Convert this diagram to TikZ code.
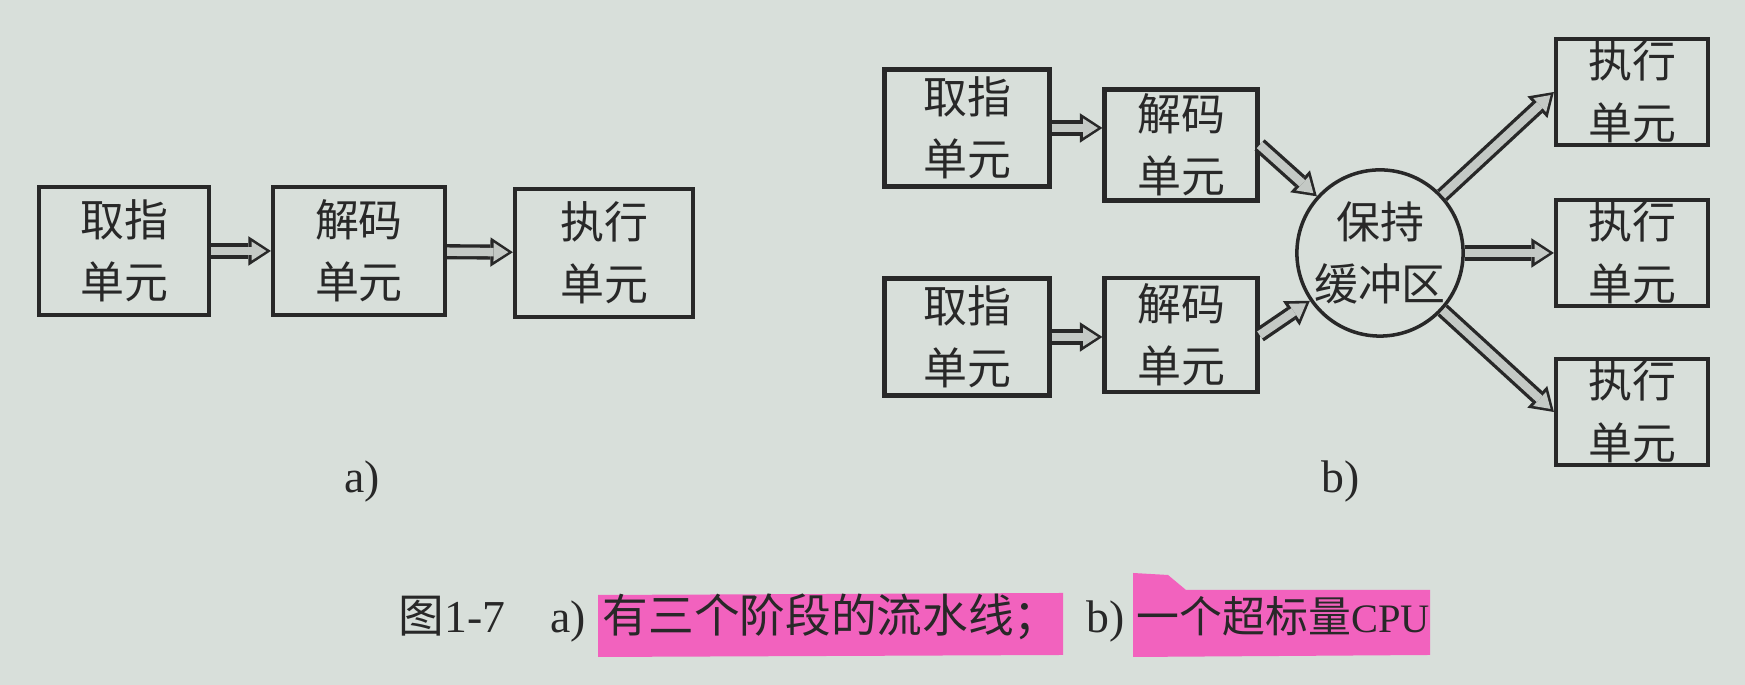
\documentclass[tikz,border=0pt]{standalone}
\usepackage{fontspec}
\setmainfont{Liberation Serif}
\newfontfamily\cjk{Noto Sans CJK SC}
\usetikzlibrary{arrows.meta}

\definecolor{paper}{RGB}{216,223,218}
\definecolor{ink}{RGB}{40,40,40}
\definecolor{marker}{RGB}{242,98,190}
\definecolor{shaft}{RGB}{196,201,197}

\begin{document}
\begin{tikzpicture}[unit/.style={draw=ink,line width=1.2pt,inner sep=0pt,
                    align=center,text=ink,font=\cjk\fontsize{12.5}{17.5}\selectfont},
                    buffer/.style={unit,circle,line width=1pt,minimum size=1.3cm},
                    pipe/.style={draw=shaft,line width=2.4pt,shorten >=1.3pt,
                    -{Triangle[length=4.2pt,width=5.4pt,line width=0pt]},
                    preaction={draw=ink,line width=4.3pt,shorten >=0pt,
                    -{Triangle[length=6.4pt,width=8.4pt,line width=0pt]}}},
                    tag/.style={text=ink,inner sep=0pt,font=\fontsize{13}{15}\selectfont}]

\useasboundingbox[fill=paper] (0,0) rectangle (17.45,6.85);

% a) three stage pipeline
\node[unit,minimum width=1.70cm,minimum height=1.28cm] (f) at(1.24,4.34) {取指\\单元};
\node[unit,minimum width=1.72cm,minimum height=1.28cm] (d) at(3.59,4.34) {解码\\单元};
\node[unit,minimum width=1.78cm,minimum height=1.28cm] (e) at(6.04,4.32) {执行\\单元};
\node[tag] (a) at(3.62,2.03) {a)};

\draw[pipe] (f) -- (d);
\draw[pipe] (d) -- (e);

% b) superscalar
\node[unit,minimum width=1.65cm,minimum height=1.17cm] (f1) at(9.67,5.57) {取指\\单元};
\node[unit,minimum width=1.53cm,minimum height=1.11cm] (d1) at(11.81,5.40) {解码\\单元};
\node[unit,minimum width=1.65cm,minimum height=1.17cm] (f2) at(9.67,3.48) {取指\\单元};
\node[unit,minimum width=1.53cm,minimum height=1.14cm] (d2) at(11.81,3.50) {解码\\单元};
\node[buffer] (buf) at(13.80,4.32) {保持\\缓冲区};
\node[unit,minimum width=1.52cm,minimum height=1.06cm] (e1) at(16.32,5.93) {执行\\单元};
\node[unit,minimum width=1.52cm,minimum height=1.06cm] (e2) at(16.32,4.32) {执行\\单元};
\node[unit,minimum width=1.52cm,minimum height=1.06cm] (e3) at(16.32,2.73) {执行\\单元};
\node[tag] (b) at(13.41,2.03) {b)};

\draw[pipe] (f1) -- (f1 -| d1.west);
\draw[pipe] (f2) -- (f2 -| d2.west);
\draw[pipe] (d1.east) -- (buf);
\draw[pipe] (d2.east) -- (buf);
\draw[pipe] (buf) -- (e1.west);
\draw[pipe] (buf) -- (e2.west);
\draw[pipe] (buf) -- (e3.west);

% caption
\fill[marker] (5.98,0.28) -- (5.98,0.90) -- (10.63,0.92) -- (10.63,0.30) -- cycle;
\fill[marker] (11.33,0.28) -- (11.33,1.12) -- (11.68,1.10) -- (11.86,0.95)
              -- (14.30,0.95) -- (14.30,0.30) -- cycle;
\node[tag,anchor=base west] (c0) at(3.98,0.52) {{\cjk 图}1-7};
\node[tag,anchor=base west] (c1) at(5.50,0.52) {a)};
\node[tag,anchor=base west] (c2) at(6.02,0.52) {\cjk 有三个阶段的流水线；};
\node[tag,anchor=base west] (c3) at(10.86,0.52) {b)};
\node[tag,anchor=base west,font=\fontsize{12.2}{15}\selectfont] (c4) at(11.36,0.52)
     {{\cjk 一个超标量}\fontsize{11.5}{15}\selectfont CPU};

\end{tikzpicture}
\end{document}
